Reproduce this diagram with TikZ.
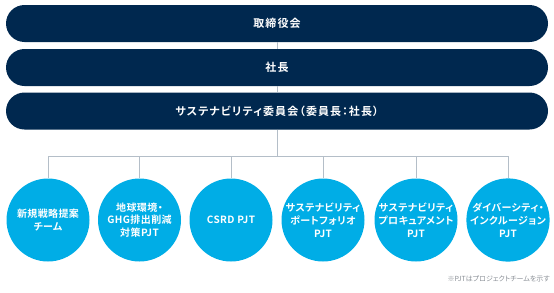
\documentclass[tikz,border=0pt]{standalone}
\usepackage{fontspec}
\setmainfont{Noto Sans CJK JP}[RawFeature=+palt, BoldFont={* Bold}]
\usepackage{tikz}
\usepackage{xcolor}

\definecolor{navy}{HTML}{00284F}
\definecolor{skyblue}{HTML}{00ADE6}
\definecolor{linegray}{HTML}{B4BEC8}
\definecolor{notegray}{HTML}{8A8F96}

\tikzset{
	bar/.style={rectangle, rounded corners=18.5pt, fill=navy, text=white,
		minimum width=542pt, minimum height=37pt, inner sep=0pt,
		font=\fontsize{11}{13}\selectfont\bfseries\addfontfeatures{LetterSpace=10}},
	team/.style={circle, fill=skyblue, text=white, minimum size=83pt,
		inner sep=0pt, align=center,
		font=\fontsize{10}{12.8}\selectfont\bfseries\addfontfeatures{LetterSpace=4}},
	link/.style={draw=linegray, line width=1pt}
}

\begin{document}
\begin{tikzpicture}[x=1pt, y=1pt]
	\useasboundingbox (0,0) rectangle (554,-292);

	\node[bar] (board)     at (277,-23.5) {取締役会};
	\node[bar] (president) at (277,-67.5) {社長};
	\node[bar] (committee) at (277,-111)  {サステナビリティ委員会（委員長：社長）};

	\node[team] (p1) at (48,-220)    {新規戦略提案\\チーム};
	\node[team] (p2) at (139.5,-220) {地球環境・\\GHG排出削減\\対策PJT};
	\node[team] (p3) at (231,-220)   {CSRD PJT};
	\node[team] (p4) at (323,-220)   {サステナビリティ\\ポートフォリオ\\PJT};
	\node[team] (p5) at (416,-220)   {サステナビリティ\\プロキュアメント\\PJT};
	\node[team] (p6) at (508,-220)   {ダイバーシティ・\\インクルージョン\\PJT};

	\node[anchor=east, inner sep=0pt, text=notegray,
		font=\fontsize{7}{8}\selectfont] (note) at (550,-279) {※PJTはプロジェクトチームを示す};

	\coordinate (bus) at (277,-156);

	\draw[link] (board) -- (president);
	\draw[link] (president) -- (committee);
	\draw[link] (committee) -- (bus);
	\draw[link] (p1.north) -- (p1 |- bus) -- (p6 |- bus) -- (p6.north);
	\draw[link] (p2.north) -- (p2 |- bus);
	\draw[link] (p3.north) -- (p3 |- bus);
	\draw[link] (p4.north) -- (p4 |- bus);
	\draw[link] (p5.north) -- (p5 |- bus);
\end{tikzpicture}
\end{document}
